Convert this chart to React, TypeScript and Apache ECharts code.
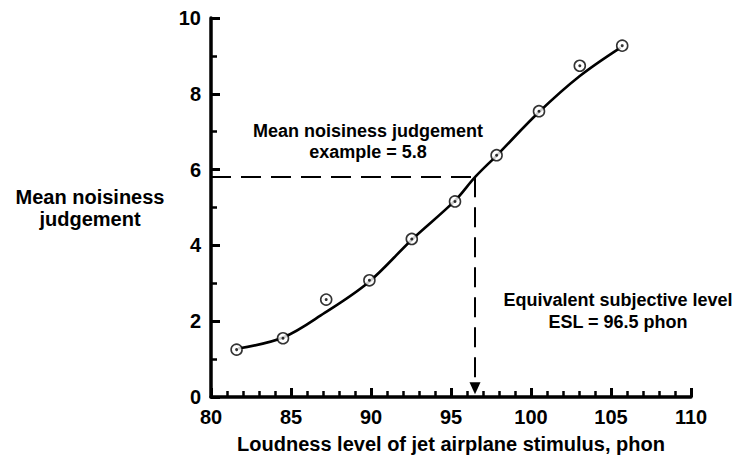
import React, { useEffect, useRef } from "react";
import * as echarts from "echarts";

// Measured data points (loudness level, mean noisiness judgement)
const pointX = [81.6, 84.5, 87.2, 89.9, 92.55, 95.25, 97.85, 100.5, 103.05, 105.7];
const pointY = [1.25, 1.55, 2.57, 3.08, 4.17, 5.16, 6.38, 7.54, 8.74, 9.27];

// Fitted curve
const curveX = [81.7, 84.5, 87.1, 89.85, 92.55, 95.25, 96.5, 97.85, 100.5, 103.05, 105.6];
const curveY = [1.28, 1.57, 2.22, 3.03, 4.15, 5.18, 5.8, 6.37, 7.52, 8.47, 9.22];

// Example reading
const exampleJudgement = 5.8;
const exampleESL = 96.5;

const xTicks = { min: 80, max: 110, interval: 5 };
const yTicks = { min: 0, max: 10, interval: 2 };

const FONT = "'Liberation Sans', Arial, Helvetica, sans-serif";

function makeAxis(splitNumber: number) {
  return {
    type: "value",
    splitLine: { show: false },
    axisLine: { show: true, lineStyle: { color: "#000000", width: 3.5 } },
    axisTick: { show: true, inside: true, length: 9, lineStyle: { color: "#000000", width: 3 } },
    minorTick: { show: true, splitNumber, length: 6, lineStyle: { color: "#000000", width: 2.5 } },
    axisLabel: {
      color: "#000",
      fontSize: 20,
      fontWeight: "bold",
      fontFamily: FONT,
      margin: 10,
    },
  };
}

export default function App() {
  const ref = useRef<HTMLDivElement>(null);
  useEffect(() => {
    if (!ref.current) return;
    const chart = echarts.init(ref.current, null, { renderer: "svg" });
    const points = pointX.map((x, i) => [x, pointY[i]]);
    const curve = curveX.map((x, i) => [x, curveY[i]]);
    chart.setOption({
      animation: false,
      grid: { left: 211, right: 47, top: 18, bottom: 58 },
      xAxis: {
        ...makeAxis(5),
        min: xTicks.min,
        max: xTicks.max,
        interval: xTicks.interval,
        name: "Loudness level of jet airplane stimulus, phon",
        nameLocation: "middle",
        nameGap: 37,
        nameTextStyle: { color: "#000", fontSize: 20, fontWeight: "bold", fontFamily: FONT },
      },
      yAxis: {
        ...makeAxis(2),
        min: yTicks.min,
        max: yTicks.max,
        interval: yTicks.interval,
        name: "Mean noisiness\njudgement",
        nameLocation: "middle",
        nameRotate: 0,
        nameGap: 121,
        nameTextStyle: {
          color: "#000",
          fontSize: 20,
          fontWeight: "bold",
          fontFamily: FONT,
          align: "center",
          verticalAlign: "middle",
          lineHeight: 22,
          padding: [6, 0, 0, 0],
        },
      },
      series: [
        {
          type: "line",
          data: curve,
          smooth: 0.35,
          showSymbol: false,
          symbol: "none",
          lineStyle: { color: "#000", width: 2.6 },
          z: 2,
          silent: true,
          markLine: {
            silent: true,
            animation: false,
            symbol: ["none", "none"],
            label: { show: false },
            itemStyle: { color: "#000" },
            lineStyle: { color: "#000", width: 2, type: [20, 10] },
            data: [
              [{ coord: [xTicks.min, exampleJudgement] }, { coord: [exampleESL, exampleJudgement] }],
              [
                { coord: [exampleESL, exampleJudgement] },
                { coord: [exampleESL, 0.23], symbol: "triangle", symbolSize: [11, 12] },
              ],
            ],
          },
        },
        {
          type: "scatter",
          data: points,
          symbol: "circle",
          symbolSize: 11,
          itemStyle: { color: "#fff", borderColor: "#000", borderWidth: 1.6 },
          z: 3,
          silent: true,
        },
        {
          type: "scatter",
          data: points,
          symbol: "circle",
          symbolSize: 3,
          itemStyle: { color: "#000" },
          z: 4,
          silent: true,
        },
      ],
      graphic: [
        {
          type: "text",
          x: 368,
          y: 141,
          style: {
            text: "Mean noisiness judgement\nexample = 5.8",
            fill: "#000",
            font: `bold 18px ${FONT}`,
            align: "center",
            verticalAlign: "middle",
            lineHeight: 21,
          },
        },
        {
          type: "text",
          x: 618,
          y: 311,
          style: {
            text: "Equivalent subjective level\nESL = 96.5 phon",
            fill: "#000",
            font: `bold 18px ${FONT}`,
            align: "center",
            verticalAlign: "middle",
            lineHeight: 22,
          },
        },
      ],
    });
    return () => chart.dispose();
  }, []);
  return (
    <div
      ref={ref}
      style={{ position: "absolute", left: 0, top: 0, width: 738, height: 459, background: "#fff" }}
    />
  );
}
